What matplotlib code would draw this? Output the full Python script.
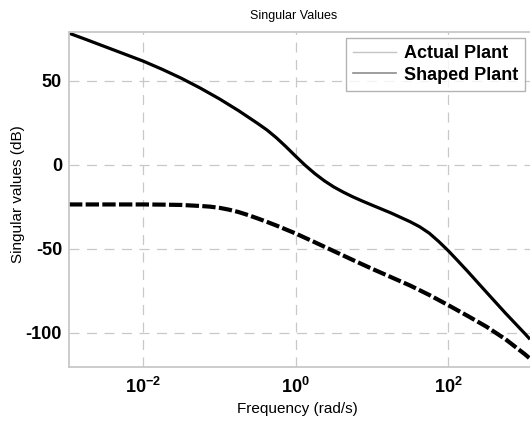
import matplotlib
matplotlib.use("Agg")
import matplotlib.pyplot as plt
from matplotlib.lines import Line2D
from matplotlib.ticker import FixedLocator, FixedFormatter

plt.rcParams["font.family"] = ["Liberation Sans", "DejaVu Sans"]
plt.rcParams["mathtext.fontset"] = "custom"
plt.rcParams["mathtext.rm"] = "Liberation Sans"
plt.rcParams["mathtext.bf"] = "Liberation Sans:bold"

# log10 of frequency (rad/s) and singular values (dB)
shaped_logf = [-2.97, -2.75, -2.5, -2.25, -2.0, -1.75, -1.5, -1.25, -1.0,
               -0.75, -0.5, -0.375, -0.25, -0.125, 0.0, 0.125, 0.25, 0.375,
               0.5, 0.625, 0.75, 0.875, 1.0, 1.25, 1.5, 1.625, 1.75, 1.875,
               2.0, 2.125, 2.25, 2.5, 2.75, 3.0, 3.07]
shaped_db = [78.3, 74.6, 70.3, 66.0, 61.7, 56.8, 51.5, 45.6, 39.2,
             32.2, 24.6, 20.6, 15.9, 10.6, 5.0, -0.4, -5.3, -9.6,
             -13.3, -16.4, -19.2, -21.7, -24.1, -28.8, -34.0, -37.0, -40.8,
             -45.8, -51.3, -57.3, -63.4, -76.0, -88.5, -100.5, -104.0]

actual_logf = [-2.97, -2.5, -2.0, -1.75, -1.5, -1.25, -1.125, -1.0, -0.875,
               -0.75, -0.625, -0.5, -0.375, -0.25, 0.0, 0.25, 0.5, 0.75, 1.0,
               1.25, 1.5, 1.75, 2.0, 2.25, 2.5, 2.75, 3.0, 3.07]
actual_db = [-23.7, -23.7, -23.7, -23.8, -24.0, -24.6, -25.0, -25.7, -26.8,
             -28.2, -30.0, -32.0, -34.1, -36.3, -41.0, -46.2, -51.5, -56.8,
             -62.0, -67.0, -72.0, -77.6, -83.7, -90.0, -96.5, -104.0, -112.8,
             -115.5]

y_ticks = [-100, -50, 0, 50]
y_labels = ["-100", "-50", "0", "50"]
x_ticks = [1e-2, 1e0, 1e2]
x_labels = [r"$\mathbf{10^{-2}}$", r"$\mathbf{10^{0}}$", r"$\mathbf{10^{2}}$"]
legend_labels = ["Actual Plant", "Shaped Plant"]

fig = plt.figure(figsize=(5.3, 4.21), dpi=100)
ax = fig.add_axes([69 / 530, 1 - 367 / 421, 1 - 69 / 530, (367 - 32) / 421])

ax.plot([10 ** v for v in shaped_logf], shaped_db, color="black",
        linewidth=2.3, solid_capstyle="butt", solid_joinstyle="round")
ax.plot([10 ** v for v in actual_logf], actual_db, color="black",
        linewidth=3.0, dashes=(3.2, 0.8))

ax.set_xscale("log")
ax.set_xlim(10 ** -2.97, 10 ** 3.07)
ax.set_ylim(-120.5, 79)

ax.xaxis.set_major_locator(FixedLocator(x_ticks))
ax.xaxis.set_major_formatter(FixedFormatter(x_labels))
ax.xaxis.set_minor_locator(FixedLocator([]))
ax.yaxis.set_major_locator(FixedLocator(y_ticks))
ax.yaxis.set_major_formatter(FixedFormatter(y_labels))
ax.tick_params(axis="both", length=0, labelsize=13)
ax.tick_params(axis="y", pad=5)
ax.tick_params(axis="x", pad=7)
for label in ax.get_yticklabels():
    label.set_fontweight("bold")

ax.grid(True, color="#c8c8c8", linewidth=0.9, linestyle=(0, (8, 6)))
ax.set_axisbelow(True)

for side in ("left", "top", "bottom"):
    ax.spines[side].set_color("#c8c8c8")
    ax.spines[side].set_linewidth(1.3)
ax.spines["right"].set_visible(False)

ax.set_xlabel("Frequency (rad/s)", fontsize=11)
ax.xaxis.set_label_coords(0.496, -0.105)
ax.set_ylabel("Singular values (dB)", fontsize=11)
ax.yaxis.set_label_coords(-0.095, 0.515)
fig.text(294 / 530, 1 - 16 / 421, "Singular Values", fontsize=9,
         ha="center", va="center")

handles = [Line2D([], [], color="#c4c4c4", linewidth=1.0),
           Line2D([], [], color="#8c8c8c", linewidth=1.2)]
legend = ax.legend(handles, legend_labels, loc="upper right",
                   bbox_to_anchor=(525 / 530, 1 - 38 / 421),
                   bbox_transform=fig.transFigure, fancybox=False,
                   prop={"size": 13, "weight": "bold"}, handlelength=2.4,
                   handletextpad=0.4, borderpad=0.4, labelspacing=0.25,
                   borderaxespad=0)
legend.get_frame().set_edgecolor("#a0a0a0")
legend.get_frame().set_linewidth(1.0)

fig.savefig("out.png", dpi=100)
